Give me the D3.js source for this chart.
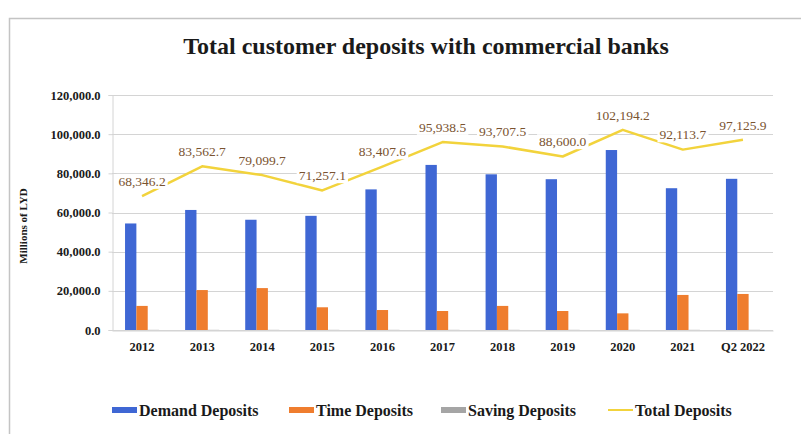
<!DOCTYPE html>
<html>
<head>
<meta charset="utf-8">
<script src="https://cdn.jsdelivr.net/npm/d3@7"></script>
<style>
  html, body { margin: 0; padding: 0; background: #fff; }
  svg { display: block; font-family: "Liberation Serif", "Times New Roman", serif; }
</style>
</head>
<body>
<svg id="chart" width="801" height="434"></svg>
<script>
// Deposits by period, millions of LYD
const categories = ["2012", "2013", "2014", "2015", "2016", "2017", "2018", "2019", "2020", "2021", "Q2 2022"];
const demandDeposits = [54400, 61300, 56300, 58300, 71800, 84300, 79500, 77000, 91900, 72400, 77200];
const timeDeposits = [12300, 20400, 21400, 11600, 10200, 9700, 12300, 9700, 8500, 17900, 18400];
const savingDeposits = [80, 80, 80, 80, 80, 80, 80, 80, 80, 80, 80];
const totalDeposits = [68346.2, 83562.7, 79099.7, 71257.1, 83407.6, 95938.5, 93707.5, 88600.0, 102194.2, 92113.7, 97125.9];
const yTicks = [0, 20000, 40000, 60000, 80000, 100000, 120000];
const seriesNames = ["Demand Deposits", "Time Deposits", "Saving Deposits", "Total Deposits"];

const colors = {
  demand: "#3f67d4",
  time: "#ef7d2e",
  saving: "#a5a5a5",
  total: "#f2d33c",
  label: "#7a5330",
  grid: "#d4d4d4",
  text: "#1a1a1a"
};

const svg = d3.select("#chart");
const plot = { left: 112, right: 773, top: 95, bottom: 330 };

// Outer frame
svg.append("rect")
  .attr("x", 9.5).attr("y", 18.5)
  .attr("width", 800).attr("height", 430)
  .attr("fill", "#fff").attr("stroke", "#c4c4c4").attr("stroke-width", 1.5);

// Title
svg.append("text")
  .attr("x", 426).attr("y", 54)
  .attr("text-anchor", "middle")
  .attr("font-size", 24).attr("font-weight", "bold")
  .attr("fill", colors.text)
  .text("Total customer deposits with commercial banks");

const x0 = d3.scaleBand().domain(categories).range([plot.left, plot.right]).paddingInner(0).paddingOuter(0);
const groupKeys = ["demand", "time", "saving"];
const x1 = d3.scaleBand().domain(groupKeys).range([0, x0.bandwidth()]).paddingOuter(1.15).paddingInner(0);
const y = d3.scaleLinear().domain([0, 120000]).range([plot.bottom, plot.top]);

// Gridlines
svg.append("g")
  .selectAll("line")
  .data(yTicks)
  .join("line")
  .attr("x1", plot.left).attr("x2", plot.right)
  .attr("y1", d => Math.round(y(d)) + 0.5).attr("y2", d => Math.round(y(d)) + 0.5)
  .attr("stroke", colors.grid).attr("stroke-width", 1);

// Y axis
const yAxis = svg.append("g")
  .attr("transform", `translate(${plot.left + 0.5},0)`)
  .call(d3.axisLeft(y).tickValues(yTicks).tickSize(4).tickPadding(8)
    .tickFormat(d => d3.format(",.1f")(d)));
yAxis.select(".domain").attr("stroke", colors.grid);
yAxis.selectAll(".tick line").attr("stroke", colors.grid);
yAxis.selectAll("text")
  .attr("font-family", "Liberation Serif, serif")
  .attr("font-size", 12.5).attr("font-weight", "bold").attr("fill", colors.text);

// X axis
const xAxis = svg.append("g")
  .attr("transform", `translate(0,${Math.round(plot.bottom) + 0.5})`)
  .call(d3.axisBottom(x0).tickSize(0).tickPadding(12));
xAxis.select(".domain").attr("stroke", colors.grid);
xAxis.selectAll("text")
  .attr("font-family", "Liberation Serif, serif")
  .attr("font-size", 12.5).attr("font-weight", "bold").attr("fill", colors.text);

// Y axis title
svg.append("text")
  .attr("transform", "translate(27,226) rotate(-90)")
  .attr("text-anchor", "middle")
  .attr("font-size", 11).attr("font-weight", "bold")
  .attr("fill", colors.text)
  .text("Millions of LYD");

// Clustered bars
const rows = categories.map((c, i) => ({
  cat: c,
  demand: demandDeposits[i],
  time: timeDeposits[i],
  saving: savingDeposits[i]
}));

const groups = svg.append("g")
  .selectAll("g")
  .data(rows)
  .join("g")
  .attr("transform", d => `translate(${x0(d.cat)},0)`);

groups.selectAll("rect")
  .data(d => groupKeys.map(k => ({ key: k, value: d[k] })))
  .join("rect")
  .attr("x", d => x1(d.key))
  .attr("width", x1.bandwidth())
  .attr("y", d => y(d.value))
  .attr("height", d => y(0) - y(d.value))
  .attr("fill", d => colors[d.key]);

// Total deposits line
const cx = c => x0(c) + x0.bandwidth() / 2;
const line = d3.line()
  .x((d, i) => cx(categories[i]))
  .y(d => y(d));

svg.append("path")
  .datum(totalDeposits)
  .attr("d", line)
  .attr("fill", "none")
  .attr("stroke", colors.total)
  .attr("stroke-width", 2.5)
  .attr("stroke-linejoin", "round");

// Data labels for totals, on white boxes
const labelFmt = d3.format(",.1f");
const labels = svg.append("g")
  .selectAll("g")
  .data(totalDeposits)
  .join("g")
  .attr("transform", (d, i) => `translate(${cx(categories[i])},${y(d) - 15})`);

labels.append("text")
  .attr("text-anchor", "middle")
  .attr("dy", "0.35em")
  .attr("font-size", 13.5)
  .attr("fill", colors.label)
  .text(d => labelFmt(d));

labels.each(function () {
  const g = d3.select(this);
  const bb = g.select("text").node().getBBox();
  g.insert("rect", "text")
    .attr("x", bb.x - 2).attr("y", bb.y)
    .attr("width", bb.width + 4).attr("height", bb.height)
    .attr("fill", "#fff");
});

// Legend
const legendItems = [
  { name: seriesNames[0], key: "demand", type: "rect", x: 112 },
  { name: seriesNames[1], key: "time", type: "rect", x: 289 },
  { name: seriesNames[2], key: "saving", type: "rect", x: 441 },
  { name: seriesNames[3], key: "total", type: "line", x: 608 }
];
const legend = svg.append("g")
  .selectAll("g")
  .data(legendItems)
  .join("g")
  .attr("transform", d => `translate(${d.x},410)`);

legend.filter(d => d.type === "rect").append("rect")
  .attr("x", 0).attr("y", -3).attr("width", 25).attr("height", 6)
  .attr("fill", d => colors[d.key]);
legend.filter(d => d.type === "line").append("line")
  .attr("x1", 0).attr("x2", 25).attr("y1", 0).attr("y2", 0)
  .attr("stroke", d => colors[d.key]).attr("stroke-width", 2);
legend.append("text")
  .attr("x", 27).attr("dy", "0.35em")
  .attr("font-size", 16).attr("font-weight", "bold")
  .attr("fill", colors.text)
  .text(d => d.name);
</script>
</body>
</html>
